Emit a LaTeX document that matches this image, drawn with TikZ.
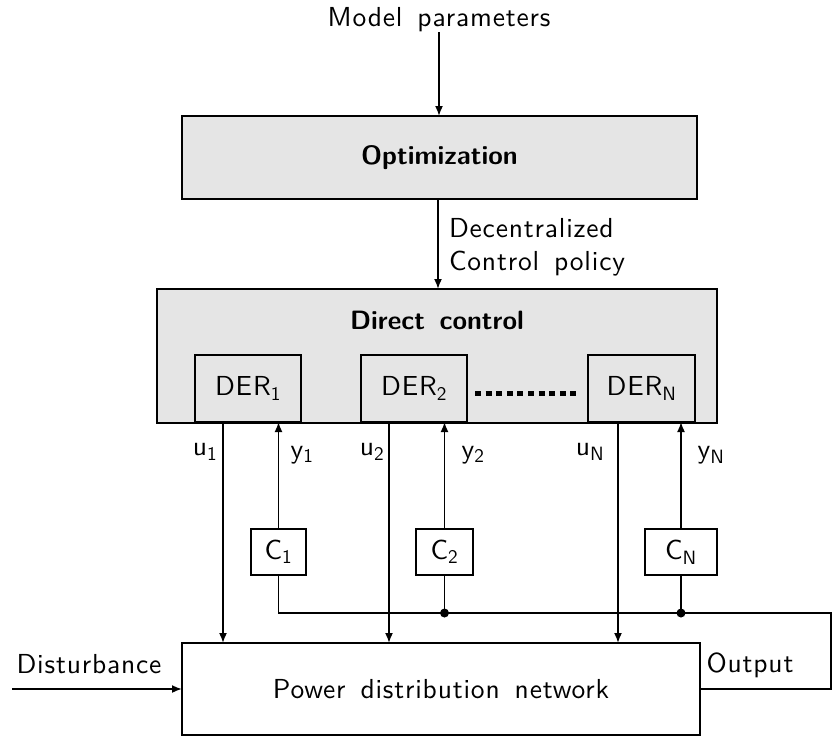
\documentclass[tikz,border=0pt]{standalone}
\usepackage{fontspec}
\setsansfont{lmsans10-regular.otf}[
  BoldFont=lmsans10-bold.otf,
  LetterSpace=3, WordSpace=1.5,
  BoldFeatures={LetterSpace=0}]
\usetikzlibrary{arrows.meta,calc}
\begin{document}
\begin{tikzpicture}[x=1pt,y=-1pt,
  font=\sffamily\fontsize{27.5}{33}\selectfont,
  every node/.style={inner sep=0pt, outer sep=0pt},
  head/.style={font=\sffamily\bfseries\fontsize{26.5}{30}\selectfont},
  line/.style={line width=1.7pt},
  arrow/.style={line width=1.7pt,-{Latex[length=10pt,width=8pt]}},
  box/.style={draw, line width=1.7pt, rectangle, align=center},
  grey/.style={box, fill=black!10},
  junction/.style={circle, fill=black, minimum size=9pt}
]
\useasboundingbox (0,0) rectangle (833,740);

% main blocks
\node (model) at (439,20) {Model parameters};
\node[grey, head, minimum width=515pt, minimum height=83pt] (opt) at (439.5,157.5) {Optimization};
\node[grey, minimum width=560pt, minimum height=134pt] (dc) at (437,356) {};
\node[head] (dctitle) at (437,320) {Direct control};

% local controllers
\node[box, minimum width=106pt, minimum height=67pt] (der1) at (248,388.5) {DER\textsubscript{1}};
\node[box, minimum width=106pt, minimum height=67pt] (der2) at (414,388.5) {DER\textsubscript{2}};
\node[box, minimum width=107pt, minimum height=67pt] (derN) at (641.5,388.5) {DER\textsubscript{N}};
\coordinate (dotsA) at (475,393);
\coordinate (dotsB) at (580,393);
\draw[line width=5pt, dash pattern=on 6pt off 4.6pt] (dotsA) -- (dotsB);

% compensators
\node[box, minimum width=55pt, minimum height=46pt] (c1) at (278.5,552) {C\textsubscript{1}};
\node[box, minimum width=57pt, minimum height=46pt] (c2) at (444.5,552) {C\textsubscript{2}};
\node[box, minimum width=72pt, minimum height=46pt] (cN) at (681,552) {C\textsubscript{N}};

% plant
\node[box, minimum width=518pt, minimum height=92pt] (pdn) at (441,689) {Power distribution network};

% top arrows
\draw[arrow] (model.south) -- (model.south |- opt.north);
\coordinate (polx) at (438,0);
\draw[arrow] (opt.south -| polx) -- (dc.north -| polx);
\node[anchor=west, align=left] (policy) at (449,247) {Decentralized\\Control policy};

% control signals u
\coordinate (u1x) at (223,0);
\coordinate (u2x) at (389,0);
\coordinate (uNx) at (618,0);
\draw[arrow] (der1.south -| u1x) -- (pdn.north -| u1x);
\draw[arrow] (der2.south -| u2x) -- (pdn.north -| u2x);
\draw[arrow] (derN.south -| uNx) -- (pdn.north -| uNx);
\node (lu1) at (205,452) {u\textsubscript{1}};
\node (lu2) at (372,452) {u\textsubscript{2}};
\node (luN) at (590,452) {u\textsubscript{N}};

% measurements y
\draw[arrow] (c1.north) -- (c1.north |- der1.south);
\draw[arrow] (c2.north) -- (c2.north |- der2.south);
\draw[arrow] (cN.north) -- (cN.north |- derN.south);
\node (ly1) at (302,455) {y\textsubscript{1}};
\node (ly2) at (473,455) {y\textsubscript{2}};
\node (lyN) at (711,455) {y\textsubscript{N}};

% feedback bus
\coordinate (busL) at (278.5,613);
\coordinate (busR) at (831,613);
\node[junction] (j2) at (444.5,613) {};
\node[junction] (jN) at (681,613) {};
\draw[line] (c1.south) -- (busL) -- (busR) |- (pdn.east);
\draw[line] (c2.south) -- (j2);
\draw[line] (cN.south) -- (jN);

% external signals
\coordinate (dist) at (12,689);
\draw[arrow] (dist) -- (pdn.west);
\node (ldist) at (89,664) {Disturbance};
\node (lout) at (750,665) {Output};
\end{tikzpicture}
\end{document}
